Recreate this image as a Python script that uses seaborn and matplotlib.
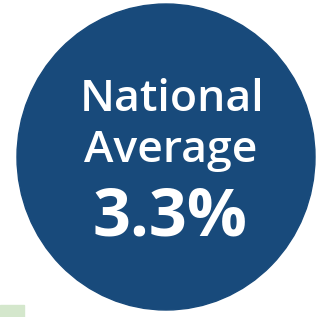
import matplotlib
matplotlib.use("Agg")
import matplotlib.pyplot as plt
from matplotlib.patches import Ellipse, Rectangle
import seaborn as sns

# Values shown in the badge
label_lines = ["National", "Average"]
national_average = 3.3

sns.set_theme(style="white")
plt.rcParams['font.family'] = ['Open Sans', 'DejaVu Sans']

fig = plt.figure(figsize=(3.17, 3.17), dpi=100)
ax = fig.add_axes([0, 0, 1, 1])
ax.set_xlim(0, 317)
ax.set_ylim(317, 0)
ax.axis("off")

# Big blue badge
ax.add_patch(Ellipse((166, 157), 298, 306, color="#184a7b"))
# small green block at bottom left
ax.add_patch(Rectangle((0, 305), 24, 12, color="#d4e7cc"))

ax.text(172, 111, label_lines[0], ha="center", va="baseline", color="white",
        fontsize=32, fontweight="semibold")
ax.text(171, 162, label_lines[1], ha="center", va="baseline", color="white",
        fontsize=32, fontweight="semibold")
ax.text(170, 235, f"{national_average}%", ha="center", va="baseline", color="white",
        fontsize=48, fontweight="bold")

fig.savefig("out.png", dpi=100)
